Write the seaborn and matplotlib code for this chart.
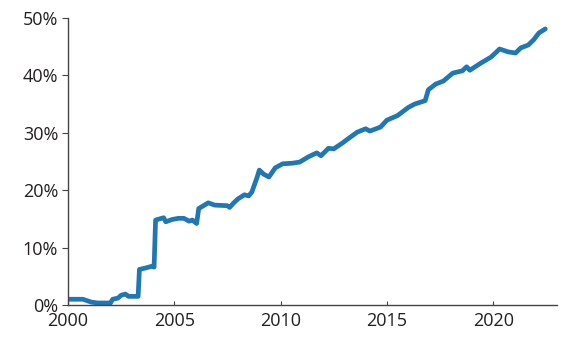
import matplotlib
matplotlib.use("Agg")
import matplotlib.pyplot as plt
import seaborn as sns
import pandas as pd
from matplotlib.ticker import PercentFormatter

# ==========================
# Data
# ==========================

years = [2000.0, 2000.7, 2001.1, 2001.4, 2002.0, 2002.1, 2002.35, 2002.5, 2002.7, 2002.85,
         2003.3, 2003.36, 2003.6, 2004.0, 2004.05, 2004.12, 2004.5, 2004.6, 2004.9, 2005.2,
         2005.45, 2005.7, 2005.85, 2006.05, 2006.15, 2006.6, 2006.9, 2007.5, 2007.6, 2007.8,
         2008.0, 2008.3, 2008.5, 2008.65, 2008.9, 2009.0, 2009.2, 2009.45, 2009.75, 2010.1,
         2010.55, 2010.9, 2011.3, 2011.7, 2011.9, 2012.25, 2012.5, 2012.9, 2013.3, 2013.6,
         2014.0, 2014.2, 2014.7, 2015.0, 2015.5, 2016.0, 2016.3, 2016.8, 2016.95, 2017.3,
         2017.65, 2018.1, 2018.55, 2018.75, 2018.9, 2019.4, 2019.9, 2020.3, 2020.7, 2021.05,
         2021.3, 2021.65, 2021.9, 2022.15, 2022.45]

share = [1.0, 1.0, 0.5, 0.35, 0.35, 1.0, 1.2, 1.7, 1.9, 1.5,
         1.5, 6.2, 6.4, 6.8, 6.6, 14.8, 15.2, 14.5, 14.9, 15.1,
         15.1, 14.6, 14.8, 14.2, 16.8, 17.8, 17.4, 17.3, 17.0, 17.8,
         18.5, 19.2, 19.0, 19.7, 22.3, 23.5, 22.8, 22.3, 23.9, 24.6,
         24.7, 24.9, 25.8, 26.5, 26.0, 27.3, 27.2, 28.2, 29.3, 30.1,
         30.7, 30.3, 31.0, 32.2, 33.0, 34.4, 35.0, 35.6, 37.5, 38.5,
         39.0, 40.4, 40.8, 41.5, 40.9, 42.1, 43.2, 44.6, 44.1, 43.9,
         44.8, 45.3, 46.2, 47.4, 48.1]

x_ticks = [2000, 2005, 2010, 2015, 2020]
y_ticks = [0, 10, 20, 30, 40, 50]

df = pd.DataFrame({"year": years, "share": share})

# ==========================
# Plot
# ==========================

sns.set_style("ticks")
plt.rcParams["font.family"] = ["Open Sans", "DejaVu Sans"]

fig = plt.figure(figsize=(5.79, 3.41), dpi=100)
ax = fig.add_axes([0.1174, 0.1056, 0.8446, 0.8416])

sns.lineplot(data=df, x="year", y="share", color="#1f77b4", linewidth=3.4, ax=ax)

ax.set_xlim(2000, 2023)
ax.set_ylim(0, 50)
ax.set_xticks(x_ticks)
ax.set_yticks(y_ticks)
ax.yaxis.set_major_formatter(PercentFormatter(decimals=0))
ax.set_xlabel("")
ax.set_ylabel("")

for side in ["top", "right"]:
    ax.spines[side].set_visible(False)
for side in ["left", "bottom"]:
    ax.spines[side].set_color("#444444")
    ax.spines[side].set_linewidth(1)

ax.tick_params(axis="y", direction="out", length=4, color="#444444",
               labelsize=13, labelcolor="#231f20", pad=3)
ax.tick_params(axis="x", direction="in", length=3, color="#444444",
               labelsize=13, labelcolor="#231f20", pad=5)

plt.savefig("out.png", dpi=100)
